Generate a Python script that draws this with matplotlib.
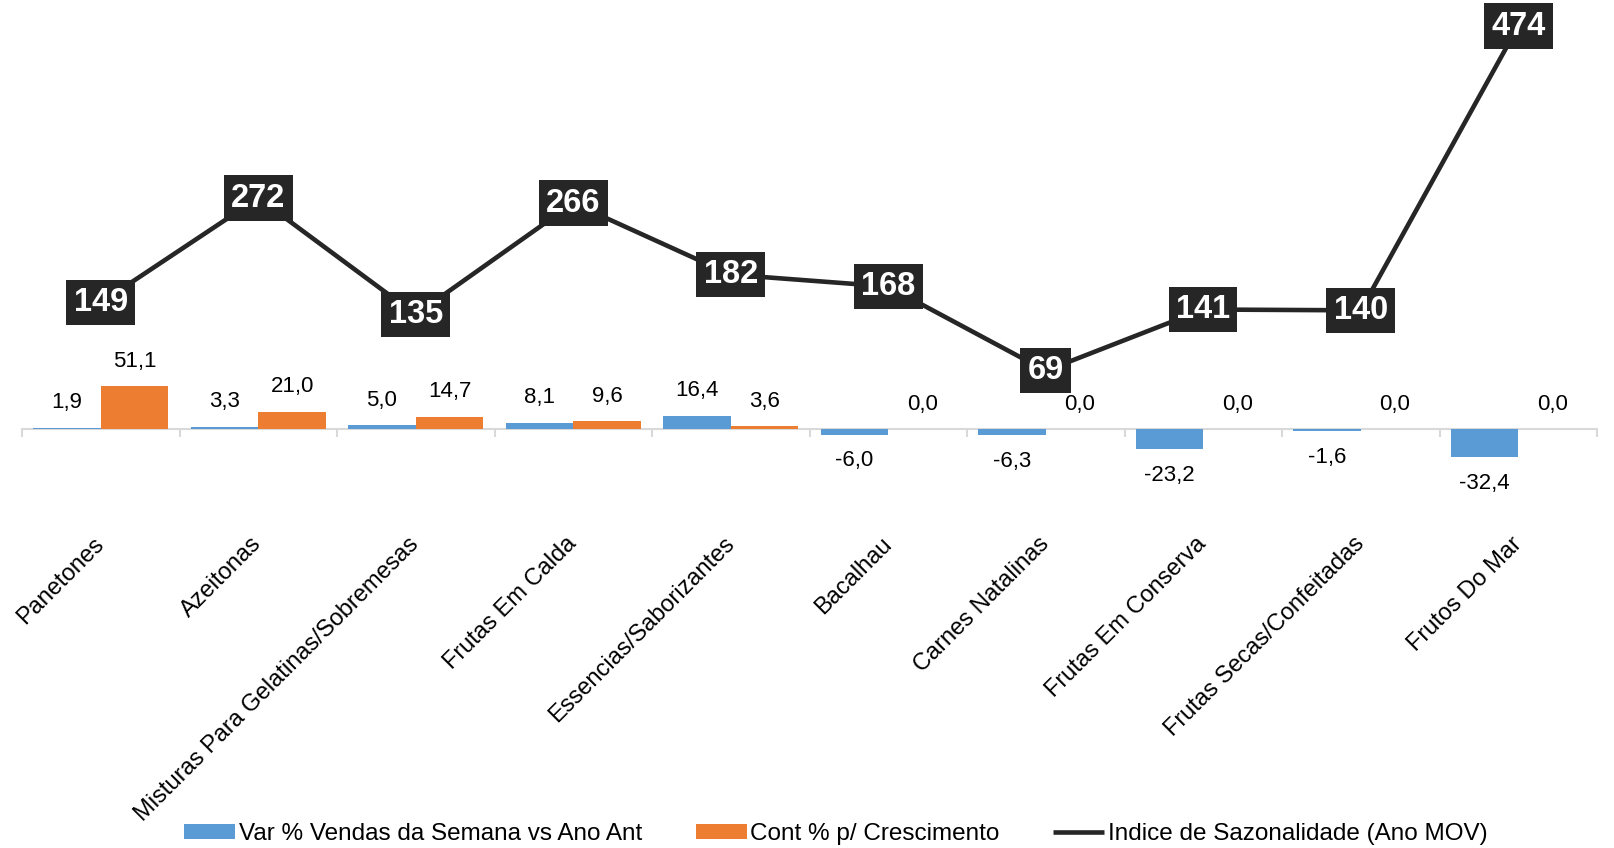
import matplotlib
matplotlib.use("Agg")
import matplotlib.pyplot as plt
import numpy as np
from matplotlib.ticker import FixedLocator

plt.rcParams["font.family"] = ["Liberation Sans", "DejaVu Sans"]

categories = [
    "Panetones",
    "Azeitonas",
    "Misturas Para Gelatinas/Sobremesas",
    "Frutas Em Calda",
    "Essencias/Saborizantes",
    "Bacalhau",
    "Carnes Natalinas",
    "Frutas Em Conserva",
    "Frutas Secas/Confeitadas",
    "Frutos Do Mar",
]
var_vendas = [1.9, 3.3, 5.0, 8.1, 16.4, -6.0, -6.3, -23.2, -1.6, -32.4]
cont_cresc = [51.1, 21.0, 14.7, 9.6, 3.6, 0.0, 0.0, 0.0, 0.0, 0.0]
sazonalidade = [149, 272, 135, 266, 182, 168, 69, 141, 140, 474]

BLUE = "#5B9BD5"
ORANGE = "#ED7D31"
DARK = "#262626"
GRID = "#D9D9D9"


def fmt(v):
    return f"{v:.1f}".replace(".", ",")


fig = plt.figure(figsize=(16.14, 8.48), dpi=100)
ax = fig.add_axes([22 / 1614, 0.4052, 1575 / 1614, 0.5901])

x = np.arange(len(categories))
w = 0.43
b1 = ax.bar(x - w / 2, var_vendas, w, color=BLUE, label="Var % Vendas da Semana vs Ano Ant", zorder=2)
b2 = ax.bar(x + w / 2, cont_cresc, w, color=ORANGE, label="Cont % p/ Crescimento", zorder=2)
ln, = ax.plot(x, sazonalidade, color=DARK, lw=3.3, label="Indice de Sazonalidade (Ano MOV)",
              zorder=3, solid_capstyle="butt")

# value labels for the bars
for bars, vals in ((b1, var_vendas), (b2, cont_cresc)):
    for rect, v in zip(bars, vals):
        cx = rect.get_x() + rect.get_width() / 2
        off = 18 if v >= 0 else -19
        ax.annotate(fmt(v), (cx, v), xytext=(0, off), textcoords="offset points",
                    ha="center", va="center", fontsize=16, color="#000000", zorder=4)

# boxed labels on the seasonality line
for xi, v in zip(x, sazonalidade):
    ax.text(xi, v, str(v), ha="center", va="center", fontsize=23.5, fontweight="bold",
            color="white", zorder=5, clip_on=False,
            bbox=dict(boxstyle="square,pad=0.22", fc=DARK, ec="none"))

ax.set_xlim(-0.5, len(categories) - 0.5)
ax.set_ylim(-88, 500)

for s in ("top", "right", "left"):
    ax.spines[s].set_visible(False)
ax.spines["bottom"].set_position(("data", 0))
ax.spines["bottom"].set_color(GRID)
ax.spines["bottom"].set_linewidth(1.5)
ax.spines["bottom"].set_zorder(1)
ax.set_yticks([])

ax.set_xticks(x)
ax.set_xticklabels(categories, rotation=45, ha="right", va="center",
                   rotation_mode="anchor", fontsize=17)
ax.tick_params(axis="x", which="major", length=0, pad=80)
ax.xaxis.set_minor_locator(FixedLocator(np.arange(-0.5, len(categories) + 0.5, 1.0)))
ax.tick_params(axis="x", which="minor", length=6, width=1.5, color=GRID)

fig.legend(handles=[b1, b2, ln], loc="center", bbox_to_anchor=(836 / 1614, 1 - 834 / 848),
           ncol=3, frameon=False, fontsize=17.5, handlelength=2.1, handleheight=0.55,
           handletextpad=0.15, columnspacing=2.2)

fig.savefig("out.png", dpi=100)
